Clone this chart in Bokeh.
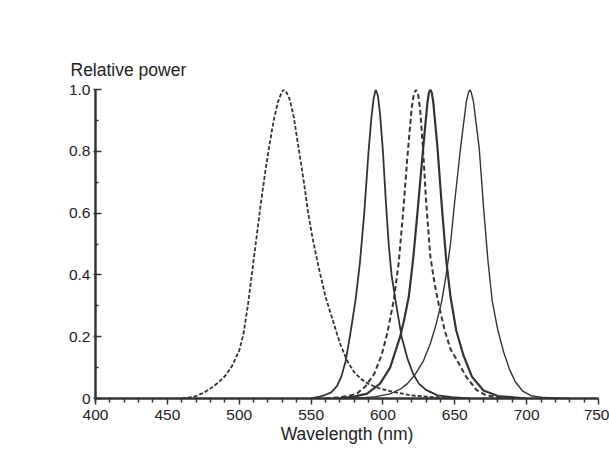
from bokeh.plotting import figure
from bokeh.models import Range1d, FixedTicker
from bokeh.embed import file_html
from bokeh.resources import INLINE

# Curve 1 (dashed, peak ~531 nm)
wl1 = [460, 465, 470, 475, 480, 485, 490, 495, 500, 503, 506, 509, 512, 515, 518, 521, 524, 527, 529, 530.5, 531.5,
       533, 535, 538, 541, 545, 548, 551, 555, 560, 564, 570, 575, 580, 585, 590, 598, 605, 612, 620, 630, 640, 650]
p1 = [0, 0.003, 0.008, 0.018, 0.032, 0.05, 0.072, 0.105, 0.155, 0.21, 0.3, 0.41, 0.52, 0.63, 0.73, 0.82, 0.9, 0.96, 0.985, 0.998, 1.0,
      0.99, 0.97, 0.91, 0.82, 0.7, 0.6, 0.52, 0.43, 0.33, 0.27, 0.18, 0.123, 0.085, 0.062, 0.047, 0.032, 0.024, 0.017, 0.01, 0.006, 0.003, 0]

# Curve 2 (solid, peak ~595 nm)
wl2 = [550, 556, 560, 564, 568, 571, 574, 577, 581, 584, 587, 590, 592, 593.5, 595, 596.5, 598, 600, 602, 604,
       606, 609, 613, 617, 621, 625, 630, 638, 648, 660]
p2 = [0, 0.006, 0.012, 0.02, 0.04, 0.07, 0.12, 0.2, 0.32, 0.44, 0.6, 0.8, 0.91, 0.97, 1.0, 0.98, 0.92, 0.8, 0.64, 0.5,
      0.4, 0.31, 0.2, 0.13, 0.08, 0.048, 0.028, 0.01, 0.004, 0]

# Curve 3 (dashed, peak ~623 nm)
wl3 = [560, 570, 576, 582, 588, 594, 599, 603, 607.5, 611, 614, 617, 620, 621.5, 623, 624.5, 626, 628, 630, 633,
       636, 639, 643, 647, 652, 658, 665, 672, 680, 690]
p3 = [0, 0.004, 0.008, 0.016, 0.04, 0.08, 0.14, 0.21, 0.317, 0.44, 0.6, 0.78, 0.94, 0.985, 1.0, 0.985, 0.93, 0.8, 0.64, 0.46,
      0.37, 0.3, 0.22, 0.16, 0.12, 0.07, 0.028, 0.01, 0.004, 0]

# Curve 4 (solid, heavier, peak ~633 nm)
wl4 = [570, 580, 589, 598, 605, 612, 615, 618, 621, 624, 628, 631, 632, 633, 634, 635, 638, 641, 644, 647,
       651, 656, 662, 670, 680, 700]
p4 = [0, 0.006, 0.016, 0.048, 0.1, 0.2, 0.26, 0.33, 0.45, 0.6, 0.81, 0.96, 0.99, 1.0, 0.99, 0.96, 0.81, 0.62, 0.45, 0.33,
      0.22, 0.14, 0.07, 0.026, 0.008, 0]

# Curve 5 (solid thin, peak ~660 nm)
wl5 = [580, 595, 605, 612, 617, 622, 628, 633, 637, 641, 644, 647, 650, 654, 658, 659.5, 660.5, 661.5, 663, 667,
       670, 673, 676, 680, 684, 688, 692, 697, 703, 712, 730]
p5 = [0, 0.006, 0.015, 0.03, 0.048, 0.075, 0.12, 0.178, 0.24, 0.317, 0.4, 0.5, 0.64, 0.81, 0.96, 0.99, 1.0, 0.99, 0.96, 0.81,
      0.62, 0.45, 0.317, 0.22, 0.15, 0.095, 0.055, 0.025, 0.009, 0.003, 0]

x_ticks = [400, 450, 500, 550, 600, 650, 700, 750]
x_minor_ticks = [400, 410, 420, 430, 440, 460, 470, 480, 490, 510, 520, 530, 540, 560, 570, 580, 590,
                 610, 620, 630, 640, 660, 670, 680, 690, 710, 720, 730, 740]
y_ticks = [0, 0.2, 0.4, 0.6, 0.8, 1.0]
y_minor_ticks = [0.1, 0.3, 0.5, 0.7, 0.9]
y_tick_labels = ["0", "0.2", "0.4", "0.6", "0.8", "1.0"]

INK = "#333333"
TEXT = "#222222"
FONT = "Liberation Sans"

p = figure(width=609, height=454, output_backend="svg", toolbar_location=None,
           x_range=Range1d(400, 750), y_range=Range1d(0, 1.0),
           title="Relative power",
           min_border_left=95, min_border_right=11, min_border_top=89, min_border_bottom=56)
p.background_fill_color = "white"
p.border_fill_color = "white"
p.outline_line_color = None
p.grid.visible = False

p.title.text_font = FONT
p.title.text_font_size = "17.5px"
p.title.text_font_style = "normal"
p.title.text_color = TEXT
p.title.align = "left"
p.title.offset = -25
p.title.standoff = 20

p.line(wl1, p1, line_color=INK, line_width=1.8, line_dash="4 2")
p.line(wl2, p2, line_color=INK, line_width=1.8)
p.line(wl3, p3, line_color=INK, line_width=2.0, line_dash="5 3")
p.line(wl4, p4, line_color=INK, line_width=2.2)
p.line(wl5, p5, line_color=INK, line_width=1.4)

xa = p.xaxis[0]
xa.ticker = FixedTicker(ticks=x_ticks, minor_ticks=x_minor_ticks)
xa.axis_label = "Wavelength (nm)"
xa.axis_label_text_font = FONT
xa.axis_label_text_font_size = "17.5px"
xa.axis_label_text_font_style = "normal"
xa.axis_label_text_color = TEXT
xa.axis_label_standoff = 1
xa.major_label_text_font = FONT
xa.major_label_text_font_size = "15.5px"
xa.major_label_text_color = TEXT
xa.major_label_standoff = 5
xa.axis_line_width = 2.5
xa.axis_line_color = INK
xa.major_tick_line_color = INK
xa.minor_tick_line_color = INK
xa.major_tick_line_width = 1.5
xa.minor_tick_line_width = 1.5
xa.major_tick_out = 6
xa.major_tick_in = 0
xa.minor_tick_out = 4
xa.minor_tick_in = 0

ya = p.yaxis[0]
ya.ticker = FixedTicker(ticks=y_ticks, minor_ticks=y_minor_ticks)
ya.major_label_overrides = {v: s for v, s in zip(y_ticks, y_tick_labels)}
ya.major_label_text_font = FONT
ya.major_label_text_font_size = "15.5px"
ya.major_label_text_color = TEXT
ya.major_label_standoff = 3
ya.axis_line_width = 2.5
ya.axis_line_color = INK
ya.major_tick_line_color = INK
ya.major_tick_line_width = 1.5
ya.major_tick_in = 6
ya.major_tick_out = 2
ya.minor_tick_line_color = INK
ya.minor_tick_line_width = 1.5
ya.minor_tick_in = 3
ya.minor_tick_out = 0

open("out.html", "w").write(file_html(p, INLINE))
